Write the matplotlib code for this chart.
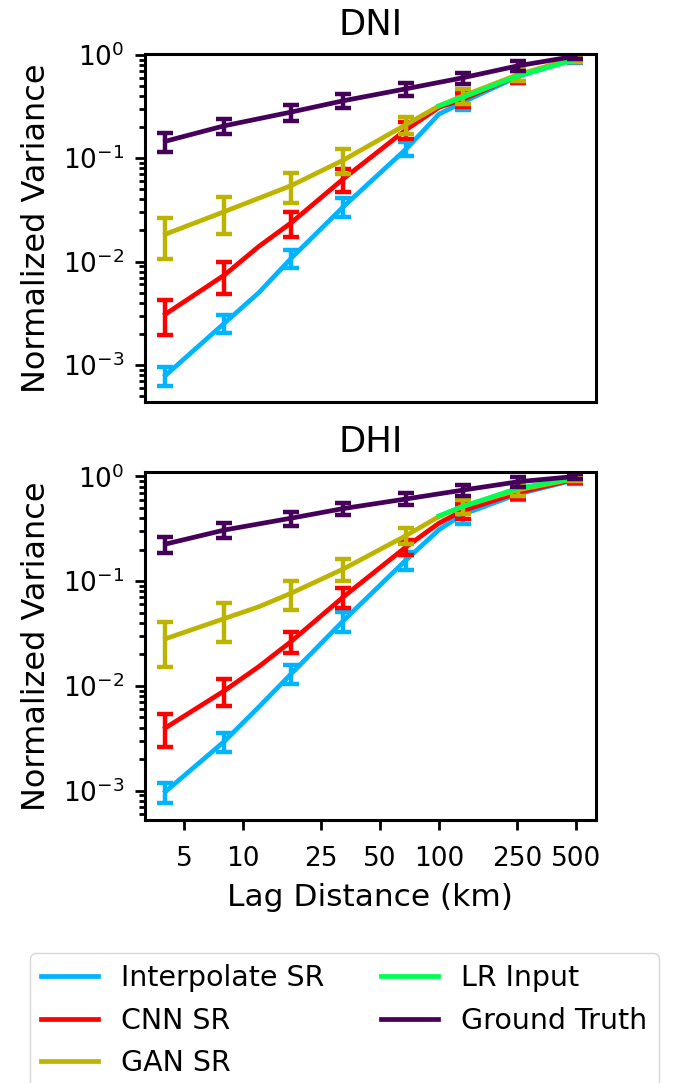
import numpy as np
import matplotlib
matplotlib.use('Agg')
import matplotlib.pyplot as plt
from matplotlib.ticker import FixedLocator, NullLocator, FixedFormatter

# lag distances (km): where the error bars sit, and the extra line vertices
lagErr = [4, 8, 17.6, 32.5, 68, 132, 254, 496]
lagLine = [4, 8, 12, 17.6, 32.5, 68, 100, 132, 254, 496]
lagLR = [100, 132, 254, 496]

xTicks = [5, 10, 25, 50, 100, 250, 500]
xTickLabels = ['5', '10', '25', '50', '100', '250', '500']

labels = ['Interpolate SR', 'CNN SR', 'GAN SR', 'LR Input', 'Ground Truth']
colors = ['#00b4ff', '#ff0000', '#bdb400', '#00ff55', '#45005a']

# DNI
dniInterpLine = [7.9e-4, 2.53e-3, 5.0e-3, 1.08e-2, 0.034, 0.123, 0.267, 0.347, 0.62, 0.91]
dniInterp = [7.9e-4, 2.53e-3, 1.08e-2, 0.034, 0.123, 0.347, 0.62, 0.91]
dniInterpErr = [1.6e-4, 4.8e-4, 2.2e-3, 0.0068, 0.019, 0.055, 0.08, 0.08]
dniCnnLine = [3.1e-3, 7.4e-3, 0.014, 0.0238, 0.0633, 0.189, 0.31, 0.37, 0.63, 0.93]
dniCnn = [3.1e-3, 7.4e-3, 0.0238, 0.0633, 0.189, 0.37, 0.63, 0.93]
dniCnnErr = [1.17e-3, 2.5e-3, 0.0064, 0.016, 0.036, 0.06, 0.09, 0.07]
dniGanLine = [0.0184, 0.0304, 0.041, 0.0544, 0.096, 0.212, 0.321, 0.40, 0.646, 0.93]
dniGan = [0.0184, 0.0304, 0.0544, 0.096, 0.212, 0.40, 0.646, 0.93]
dniGanErr = [0.0077, 0.0118, 0.0172, 0.026, 0.041, 0.064, 0.093, 0.07]
dniLR = [0.321, 0.387, 0.627, 0.90]
dniTruth = [0.146, 0.206, 0.28, 0.36, 0.47, 0.60, 0.785, 0.97]
dniTruthErr = [0.031, 0.036, 0.05, 0.057, 0.07, 0.074, 0.085, 0.05]

# DHI
dhiInterpLine = [9.8e-4, 2.96e-3, 6.3e-3, 0.0131, 0.042, 0.16, 0.31, 0.433, 0.68, 0.93]
dhiInterp = [9.8e-4, 2.96e-3, 0.0131, 0.042, 0.16, 0.433, 0.68, 0.93]
dhiInterpErr = [2.1e-4, 6.1e-4, 0.0027, 0.009, 0.032, 0.083, 0.09, 0.08]
dhiCnnLine = [3.98e-3, 9.0e-3, 0.0153, 0.0267, 0.071, 0.213, 0.358, 0.47, 0.70, 0.94]
dhiCnn = [3.98e-3, 9.0e-3, 0.0267, 0.071, 0.213, 0.47, 0.70, 0.94]
dhiCnnErr = [1.38e-3, 2.56e-3, 0.0062, 0.015, 0.036, 0.08, 0.09, 0.07]
dhiGanLine = [0.0282, 0.044, 0.057, 0.077, 0.131, 0.273, 0.414, 0.517, 0.745, 0.95]
dhiGan = [0.0282, 0.044, 0.077, 0.131, 0.273, 0.517, 0.745, 0.95]
dhiGanErr = [0.0129, 0.0175, 0.024, 0.031, 0.048, 0.081, 0.09, 0.055]
dhiLR = [0.421, 0.516, 0.773, 0.96]
dhiTruth = [0.226, 0.308, 0.40, 0.494, 0.61, 0.74, 0.89, 1.0]
dhiTruthErr = [0.041, 0.05, 0.06, 0.07, 0.08, 0.087, 0.09, 0.06]

W, H = 673, 1083
fig = plt.figure(figsize=(W / 100, H / 100), dpi=100)

def axRect(left, top, right, bottom):
    return [left / W, 1 - bottom / H, (right - left) / W, (bottom - top) / H]

axTop = fig.add_axes(axRect(145, 54, 595.5, 401.7))
axBot = fig.add_axes(axRect(145, 471.7, 595.5, 820))

def drawPanel(ax, title, lines, errs, lr, ylim):
    for (yl, yc, ye), color, label in zip(lines, colors[:3], labels[:3]):
        ax.plot(lagLine, yl, color=color, lw=3.4, label=label)
        ax.errorbar(lagErr, yc, yerr=ye, fmt='none', ecolor=color,
                    elinewidth=3.2, capsize=6, capthick=3.2)
    ax.plot(lagLR, lr, color=colors[3], lw=3.4, label=labels[3])
    yc, ye = errs
    ax.plot(lagErr, yc, color=colors[4], lw=3.4, label=labels[4])
    ax.errorbar(lagErr, yc, yerr=ye, fmt='none', ecolor=colors[4],
                elinewidth=3.2, capsize=6, capthick=3.2)

    ax.set_xscale('log')
    ax.set_yscale('log')
    ax.set_ylim(*ylim)
    ax.set_title(title, fontsize=25.4, pad=14)
    ax.set_ylabel('Normalized Variance', fontsize=23, labelpad=8)
    ax.xaxis.set_major_locator(FixedLocator(xTicks))
    ax.xaxis.set_major_formatter(FixedFormatter(xTickLabels))
    ax.xaxis.set_minor_locator(NullLocator())
    ax.tick_params(which='major', length=7, width=2, labelsize=19, pad=8)
    ax.tick_params(which='minor', length=4, width=2)
    for s in ax.spines.values():
        s.set_linewidth(2.2)

drawPanel(axTop, 'DNI',
          [(dniInterpLine, dniInterp, dniInterpErr),
           (dniCnnLine, dniCnn, dniCnnErr),
           (dniGanLine, dniGan, dniGanErr)],
          (dniTruth, dniTruthErr), dniLR, (4.4e-4, 1.02))
drawPanel(axBot, 'DHI',
          [(dhiInterpLine, dhiInterp, dhiInterpErr),
           (dhiCnnLine, dhiCnn, dhiCnnErr),
           (dhiGanLine, dhiGan, dhiGanErr)],
          (dhiTruth, dhiTruthErr), dhiLR, (5.25e-4, 1.11))

axTop.tick_params(axis='x', which='both', bottom=False, labelbottom=False)
axBot.tick_params(axis='x', pad=12)
axBot.set_xlabel('Lag Distance (km)', fontsize=22.5, labelpad=8)

handles, names = axTop.get_legend_handles_labels()
fig.legend(handles, names, loc='upper left', bbox_to_anchor=(30 / W, 1 - 953 / H),
           borderaxespad=0, ncol=2, fontsize=20.5)

fig.savefig('out.png', dpi=100)
